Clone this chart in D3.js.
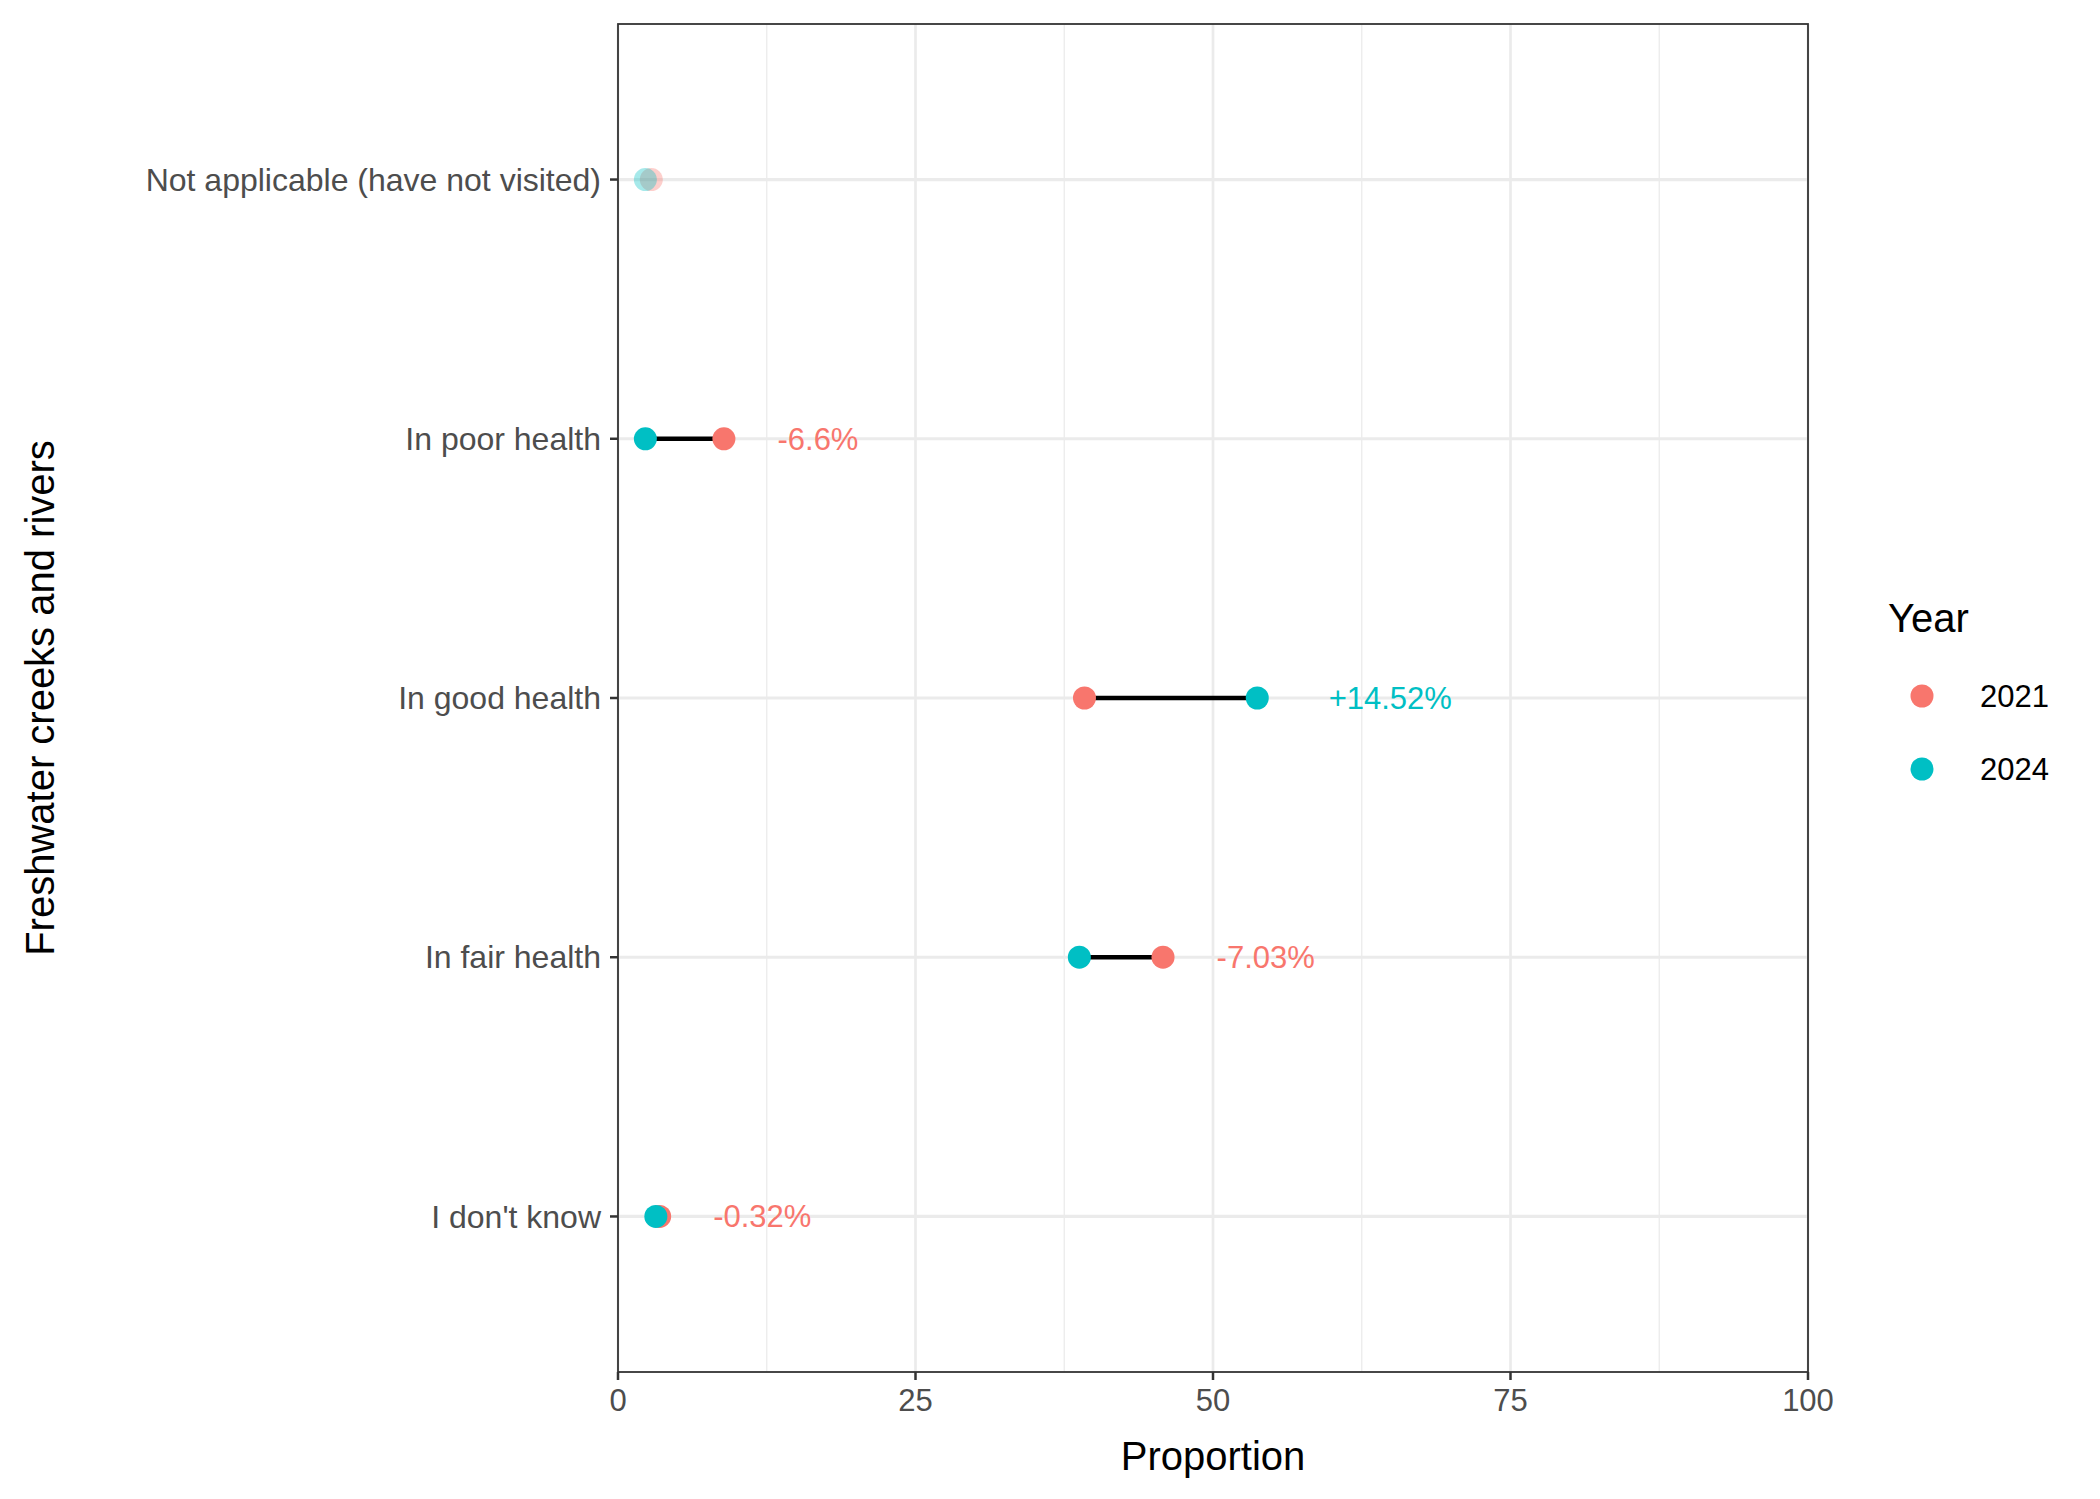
<!DOCTYPE html>
<meta charset="utf-8">
<style>
body { margin:0; background:#fff; }
text { font-family: "Liberation Sans", Arial, sans-serif; }
</style>
<body>
<svg id="chart" width="2100" height="1499"></svg>
<script src="https://cdn.jsdelivr.net/npm/d3@7"></script>
<script>
	// categories bottom -> top
	var categories = ["I don't know", "In fair health", "In good health", "In poor health", "Not applicable (have not visited)"];
	var v2021 = [3.5, 45.8, 39.2, 8.9, 2.8];
	var v2024 = [3.18, 38.77, 53.72, 2.3, 2.3];
	var diffLabels = ["-0.32%", "-7.03%", "+14.52%", "-6.6%", ""];
	var faded = [false, false, false, false, true];
	var years = ["2021", "2024"];
	var colors = ["#F8766D", "#00BFC4"];
	var xTicks = [0, 25, 50, 75, 100];

	var svg = d3.select("#chart");
	var L = 618, R = 1808, T = 24, B = 1372;

	var x = d3.scaleLinear().domain([0, 100]).range([L, R]);
	var step = (B - T) / (categories.length - 1 + 1.2);
	var y = function(i){ return B - step * (0.6 + i); };

	// grid
	var minor = [12.5, 37.5, 62.5, 87.5];
	svg.selectAll("line.minor").data(minor).enter().append("line")
		.attr("x1", d => x(d)).attr("x2", d => x(d)).attr("y1", T).attr("y2", B)
		.attr("stroke", "#ebebeb").attr("stroke-width", 1.3);
	svg.selectAll("line.major").data(xTicks).enter().append("line")
		.attr("x1", d => x(d)).attr("x2", d => x(d)).attr("y1", T).attr("y2", B)
		.attr("stroke", "#ebebeb").attr("stroke-width", 2.7);
	svg.selectAll("line.hgrid").data(categories).enter().append("line")
		.attr("x1", L).attr("x2", R).attr("y1", (d, i) => y(i)).attr("y2", (d, i) => y(i))
		.attr("stroke", "#ebebeb").attr("stroke-width", 3.2);

	// segments
	categories.forEach(function(c, i){
		if (faded[i]) return;
		svg.append("line")
			.attr("x1", x(v2021[i])).attr("x2", x(v2024[i]))
			.attr("y1", y(i)).attr("y2", y(i))
			.attr("stroke", "#000").attr("stroke-width", 4.3);
	});

	// points
	categories.forEach(function(c, i){
		[v2021, v2024].forEach(function(vals, k){
			svg.append("circle")
				.attr("cx", x(vals[i])).attr("cy", y(i)).attr("r", 11.5)
				.attr("fill", colors[k]).attr("opacity", faded[i] ? 0.35 : 1);
		});
		if (diffLabels[i]) {
			var mx = Math.max(v2021[i], v2024[i]);
			var off = v2024[i] > v2021[i] ? 6 : 4.5;
			svg.append("text")
				.attr("x", x(mx + off)).attr("y", y(i)).attr("dy", "0.35em")
				.attr("font-size", 31)
				.attr("fill", v2024[i] > v2021[i] ? colors[1] : colors[0])
				.text(diffLabels[i]);
		}
	});

	// panel border
	svg.append("rect").attr("x", L).attr("y", T).attr("width", R - L).attr("height", B - T)
		.attr("fill", "none").attr("stroke", "#333").attr("stroke-width", 1.8);

	// x axis
	var gx = svg.append("g");
	xTicks.forEach(function(t){
		gx.append("line").attr("x1", x(t)).attr("x2", x(t)).attr("y1", B).attr("y2", B + 8)
			.attr("stroke", "#333").attr("stroke-width", 2.5);
		gx.append("text").attr("x", x(t)).attr("y", B + 39).attr("text-anchor", "middle")
			.attr("font-size", 31).attr("fill", "#4d4d4d").text(t);
	});
	svg.append("text").attr("x", (L + R) / 2).attr("y", 1470).attr("text-anchor", "middle")
		.attr("font-size", 40).attr("fill", "#000").text("Proportion");

	// y axis
	categories.forEach(function(c, i){
		svg.append("line").attr("x1", L - 8).attr("x2", L).attr("y1", y(i)).attr("y2", y(i))
			.attr("stroke", "#333").attr("stroke-width", 2.5);
		svg.append("text").attr("x", L - 17).attr("y", y(i)).attr("dy", "0.35em")
			.attr("text-anchor", "end").attr("font-size", 32).attr("fill", "#4d4d4d").text(c);
	});
	svg.append("text").attr("transform", "translate(54," + ((T + B) / 2) + ") rotate(-90)")
		.attr("text-anchor", "middle").attr("font-size", 40).attr("fill", "#000")
		.text("Freshwater creeks and rivers");

	// legend
	svg.append("text").attr("x", 1888).attr("y", 632).attr("font-size", 40).text("Year");
	years.forEach(function(yr, k){
		var cy = 696 + k * 73;
		svg.append("circle").attr("cx", 1922).attr("cy", cy).attr("r", 11.5).attr("fill", colors[k]);
		svg.append("text").attr("x", 1980).attr("y", cy).attr("dy", "0.35em")
			.attr("font-size", 31).text(yr);
	});
</script>
</body>
</html>
